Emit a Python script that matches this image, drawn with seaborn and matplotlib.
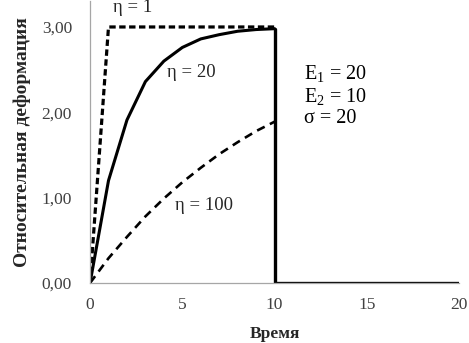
import matplotlib

matplotlib.use("Agg")
import matplotlib.pyplot as plt
import numpy as np
import pandas as pd
import seaborn as sns

# creep curves under load (t = 0..10), then unloading
t_load = [0, 1, 2, 3, 4, 5, 6, 7, 8, 9, 10]
eps_eta1 = [0, 3.00, 3.00, 3.00, 3.00, 3.00, 3.00, 3.00, 3.00, 3.00, 3.00]
eps_eta20 = [0, 1.20, 1.91, 2.36, 2.60, 2.76, 2.86, 2.91, 2.95, 2.97, 2.98]
eps_eta100 = [0, 0.29, 0.54, 0.78, 0.99, 1.18, 1.35, 1.51, 1.65, 1.78, 1.89]
t_unload = [10, 10, 20]
eps_unload = [2.98, 0, 0]

x_ticks = [0, 5, 10, 15, 20]
y_ticks = [0, 1, 2, 3]
y_tick_labels = ["0,00", "1,00", "2,00", "3,00"]

sns.set_style("white")
plt.rcParams["font.family"] = ["Liberation Serif", "DejaVu Serif"]
plt.rcParams["mathtext.fontset"] = "custom"
plt.rcParams["mathtext.rm"] = "Liberation Serif"

fig = plt.figure(figsize=(4.69, 3.43), dpi=100)
ax = fig.add_axes([0.192, 0.175, 0.787, 0.821])

common = dict(ax=ax, color="black", estimator=None, sort=False, legend=False)
sns.lineplot(x=t_load, y=eps_eta1, lw=2.3, **common)
ax.lines[-1].set_dashes([2.0, 1.1])
sns.lineplot(x=t_load, y=eps_eta20, lw=2.2, **common)
sns.lineplot(x=t_load, y=eps_eta100, lw=1.9, **common)
ax.lines[-1].set_dashes([3.2, 2.2])
sns.lineplot(x=t_unload, y=eps_unload, lw=2.4, **common)

ax.set_xlim(0, 20)
ax.set_ylim(0, 3.3)
ax.set_xticks(x_ticks)
ax.set_yticks(y_ticks)
ax.set_yticklabels(y_tick_labels)

for side in ["top", "right"]:
    ax.spines[side].set_visible(False)
for side in ["left", "bottom"]:
    ax.spines[side].set_color("#a6a6a6")
    ax.spines[side].set_linewidth(0.9)

ax.tick_params(axis="y", direction="out", length=5, color="#a6a6a6",
               labelsize=12.5, labelcolor="#404040", pad=8)
ax.tick_params(axis="x", direction="inout", length=6, color="#a6a6a6",
               labelsize=12.5, labelcolor="#404040", pad=7)

ax.set_xlabel("Время", fontsize=12.5, fontweight="bold", labelpad=9.5)
ax.set_ylabel("Относительная деформация", fontsize=14, fontweight="bold", labelpad=8)

txt = dict(fontsize=13.5, color="#262626", va="center", ha="left")
ax.text(1.25, 3.23, "η = 1", **txt)
ax.text(4.15, 2.47, "η = 20", **txt)
ax.text(4.6, 0.91, "η = 100", **txt)

ptxt = dict(fontsize=14.5, color="black", va="center", ha="left")
ax.text(11.6, 2.44, r"E$_\mathregular{1}$ = 20", **ptxt)
ax.text(11.6, 2.18, r"E$_\mathregular{2}$ = 10", **ptxt)
ax.text(11.6, 1.93, "σ = 20", **ptxt)

fig.savefig("out.png", dpi=100)
